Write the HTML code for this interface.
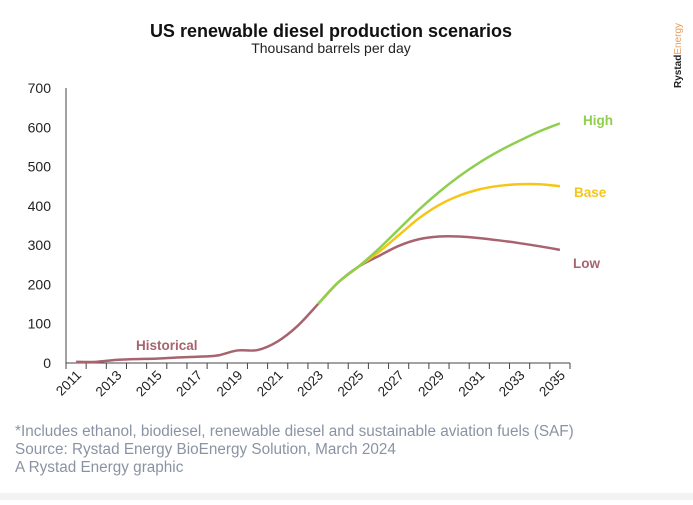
<!DOCTYPE html>
<html><head><meta charset="utf-8"><style>
body{margin:0;background:#fff;width:693px;height:500px;overflow:hidden;font-family:"Liberation Sans",sans-serif}
</style></head><body>
<svg id="s" width="693" height="500" xmlns="http://www.w3.org/2000/svg" font-family="Liberation Sans, sans-serif">
<rect x="0" y="493" width="693" height="7" fill="#f3f3f3"/>
<text x="331" y="37" text-anchor="middle" font-size="18" font-weight="bold" fill="#111">US renewable diesel production scenarios</text>
<text x="331" y="53" text-anchor="middle" font-size="14" fill="#222">Thousand barrels per day</text>
<text transform="translate(681,88) rotate(-90)" font-size="10" font-weight="bold" fill="#222">Rystad<tspan fill="#e6a060" font-weight="normal">Energy</tspan></text>
<g font-size="14" fill="#222" text-anchor="end" id="yl"></g>
<g id="ax" stroke="#444" stroke-width="1"></g>
<g id="xl" font-size="13.5" fill="#222"></g>
<g id="lines" fill="none" stroke-width="2.5"></g>
<text x="136" y="350" font-size="13.5" font-weight="bold" fill="#a8646e">Historical</text>
<text x="583" y="125" font-size="13.5" font-weight="bold" fill="#8fce4f">High</text>
<text x="574" y="197" font-size="13.5" font-weight="bold" fill="#f5c518">Base</text>
<text x="573" y="268" font-size="13.5" font-weight="bold" fill="#a8646e">Low</text>
<g font-size="15.3" fill="#8a93a3">
<text x="15" y="436">*Includes ethanol, biodiesel, renewable diesel and sustainable aviation fuels (SAF)</text>
<text x="15" y="454">Source: Rystad Energy BioEnergy Solution, March 2024</text>
<text x="15" y="472">A Rystad Energy graphic</text>
</g>
</svg>
<script>
const NS="http://www.w3.org/2000/svg";
function el(p,t,a,txt){const e=document.createElementNS(NS,t);for(const k in a)e.setAttribute(k,a[k]);if(txt!=null)e.textContent=txt;document.getElementById(p).appendChild(e);}
const X0=66,X1=570,bw=(X1-X0)/25;const Y0=363,sc=275/700;
const X=y=>X0+bw*(y-2011+0.5),Y=v=>Y0-v*sc;
for(let v=0;v<=700;v+=100)el("yl","text",{x:51,y:Y(v)+5},v);
el("ax","line",{x1:X0,y1:88,x2:X0,y2:Y0});
el("ax","line",{x1:X0,y1:Y0,x2:X1,y2:Y0});
for(let i=0;i<=25;i++){const x=X0+bw*i;el("ax","line",{x1:x,y1:Y0,x2:x,y2:Y0+6});}
for(let y=2011;y<=2035;y+=2){const x=X(y);el("xl","text",{transform:`translate(${x+6},${Y0+13}) rotate(-45)`,"text-anchor":"end"},y);}
function path(pts,col){let d=`M${X(pts[0][0])},${Y(pts[0][1])}`;const P=pts.map(p=>[X(p[0]),Y(p[1])]);
for(let i=0;i<P.length-1;i++){const p0=P[i-1]||P[i],p1=P[i],p2=P[i+1],p3=P[i+2]||P[i+1];
d+=` C${p1[0]+(p2[0]-p0[0])/6},${p1[1]+(p2[1]-p0[1])/6} ${p2[0]-(p3[0]-p1[0])/6},${p2[1]-(p3[1]-p1[1])/6} ${p2[0]},${p2[1]}`;}
el("lines","path",{d,stroke:col});}
const hist=[3,3,8,10,11,14,16,19,32,33,55,95,150];
const common=[[2023,150],[2024,205],[2025,245]];
path(common.concat([[2026,272],[2027,298],[2028,315],[2029,322],[2030,322],[2031,318],[2032,312],[2033,305],[2034,297],[2035,288]]),"#a8646e");
path(common.concat([[2026,282],[2027,325],[2028,368],[2029,402],[2030,426],[2031,442],[2032,451],[2033,455],[2034,455],[2035,450]]),"#f5c518");
path(common.concat([[2026,290],[2027,340],[2028,390],[2029,435],[2030,475],[2031,510],[2032,540],[2033,566],[2034,590],[2035,610]]),"#8fce4f");
path(hist.map((v,i)=>[2011+i,v]),"#a8646e");
</script>
</body></html>
